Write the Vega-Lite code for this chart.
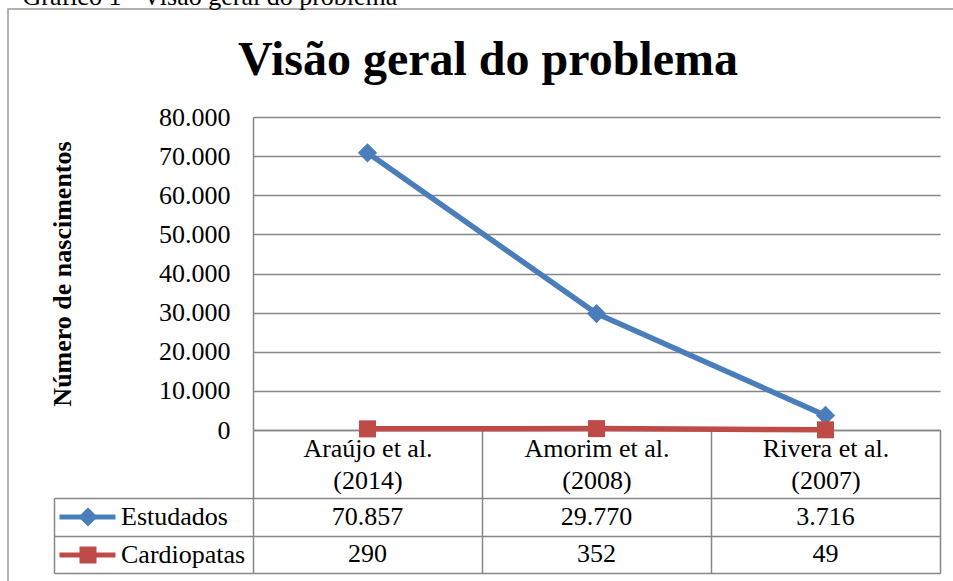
{
  "$schema": "https://vega.github.io/schema/vega-lite/v6.json",
  "width": 950,
  "height": 580,
  "autosize": {"type": "none"},
  "padding": {"left": 8, "top": 9, "right": 0, "bottom": 0},
  "background": "white",
  "title": {
    "text": "Visão geral do problema",
    "anchor": "middle",
    "frame": "group",
    "font": "Liberation Serif",
    "fontSize": 48,
    "fontWeight": "bold",
    "color": "black",
    "baseline": "alphabetic",
    "offset": -140,
    "dx": 5
  },
  "data": {
    "values": [
      {"estudo": "Araújo et al. (2014)", "serie": "Estudados", "valor": 70857},
      {"estudo": "Amorim et al. (2008)", "serie": "Estudados", "valor": 29770},
      {"estudo": "Rivera et al. (2007)", "serie": "Estudados", "valor": 3716},
      {"estudo": "Araújo et al. (2014)", "serie": "Cardiopatas", "valor": 290},
      {"estudo": "Amorim et al. (2008)", "serie": "Cardiopatas", "valor": 352},
      {"estudo": "Rivera et al. (2007)", "serie": "Cardiopatas", "valor": 49}
    ]
  },
  "layer": [
    {
      "encoding": {
        "x": {
          "field": "estudo",
          "type": "nominal",
          "scale": {"type": "band", "domain": ["Araújo et al. (2014)", "Amorim et al. (2008)", "Rivera et al. (2007)"], "range": [245, 932], "paddingInner": 0, "paddingOuter": 0},
          "axis": {
            "orient": "bottom",
            "offset": -159,
            "title": null,
            "labelExpr": "[slice(datum.label, 0, indexof(datum.label, ' (')), slice(datum.label, indexof(datum.label, ' (') + 1)]",
            "labelFont": "Liberation Serif",
            "labelFontSize": 26,
            "labelColor": "black",
            "labelLineHeight": 32,
            "labelAngle": 0,
            "labelBaseline": "top",
            "labelPadding": -138,
            "labelLimit": 0,
            "labelOverlap": false,
            "ticks": true,
            "tickBand": "extent",
            "tickSize": 143,
            "tickColor": "#868686",
            "tickWidth": 1.5,
            "domain": true,
            "domainColor": "#868686",
            "domainWidth": 1.5,
            "grid": false
          }
        },
        "y": {
          "field": "valor",
          "type": "quantitative",
          "scale": {"domain": [0, 80000], "range": [421, 108], "nice": false, "zero": true},
          "axis": {
            "orient": "left",
            "offset": -245,
            "title": "Número de nascimentos",
            "titleFont": "Liberation Serif",
            "titleFontSize": 26,
            "titleFontWeight": "bold",
            "titleColor": "black",
            "titlePadding": 83,
            "values": [0, 10000, 20000, 30000, 40000, 50000, 60000, 70000, 80000],
            "format": ",d",
            "labelFont": "Liberation Serif",
            "labelFontSize": 26,
            "labelColor": "black",
            "labelPadding": 23,
            "ticks": false,
            "grid": true,
            "gridColor": "#868686",
            "gridWidth": 1.5,
            "domain": true,
            "domainColor": "#868686",
            "domainWidth": 1.5
          }
        }
      },
      "layer": [
        {
          "mark": {"type": "line", "strokeWidth": 5.5, "strokeJoin": "round"},
          "encoding": {
            "stroke": {
              "field": "serie",
              "type": "nominal",
              "sort": ["Estudados", "Cardiopatas"],
              "scale": {"range": ["#4A7EBB", "#BE4B48"]},
              "legend": {
                "orient": "none",
                "legendX": 46,
                "legendY": 495,
                "title": null,
                "padding": 0,
                "symbolType": "stroke",
                "symbolSize": 3136,
                "symbolStrokeWidth": 5,
                "symbolOffset": 3,
                "labelOffset": 3,
                "clipHeight": 26,
                "rowPadding": 12,
                "labelFont": "Liberation Serif",
                "labelFontSize": 26,
                "labelColor": "black"
              }
            }
          }
        },
        {
          "mark": {"type": "point", "filled": true, "opacity": 1},
          "encoding": {
            "color": {
              "field": "serie",
              "type": "nominal",
              "scale": {"domain": ["Estudados", "Cardiopatas"], "range": ["#4A7EBB", "#BE4B48"]},
              "legend": {
                "orient": "none",
                "legendX": 46,
                "legendY": 495,
                "title": null,
                "padding": 0,
                "symbolSize": 210,
                "symbolStrokeWidth": 0,
                "symbolOffset": 21,
                "clipHeight": 26,
                "rowPadding": 12,
                "labelExpr": "''",
                "labelFontSize": 26
              }
            },
            "shape": {
              "field": "serie",
              "type": "nominal",
              "scale": {"domain": ["Estudados", "Cardiopatas"], "range": ["diamond", "square"]},
              "legend": {
                "orient": "none",
                "legendX": 46,
                "legendY": 495,
                "title": null,
                "padding": 0,
                "symbolSize": 210,
                "symbolStrokeWidth": 0,
                "symbolOffset": 21,
                "clipHeight": 26,
                "rowPadding": 12,
                "labelExpr": "''",
                "labelFontSize": 26
              }
            },
            "size": {"field": "serie", "type": "ordinal", "scale": {"domain": ["Estudados", "Cardiopatas"], "range": [370, 289]}, "legend": null}
          }
        }
      ]
    },
    {
      "mark": {"type": "text", "font": "Liberation Serif", "fontSize": 26, "color": "black", "align": "center", "baseline": "middle"},
      "encoding": {
        "x": {
          "field": "estudo",
          "type": "nominal",
          "scale": {"type": "band", "domain": ["Araújo et al. (2014)", "Amorim et al. (2008)", "Rivera et al. (2007)"], "range": [245, 932], "paddingInner": 0, "paddingOuter": 0},
          "axis": {
            "orient": "top",
            "offset": 0,
            "title": "Gráfico 1 - Visão geral do problema",
            "titleFont": "Liberation Serif",
            "titleFontSize": 26,
            "titleFontWeight": "normal",
            "titleColor": "black",
            "titleX": 14,
            "titleY": -5,
            "titleAlign": "left",
            "titleAnchor": "start",
            "titleBaseline": "alphabetic",
            "labels": false,
            "ticks": false,
            "domain": false,
            "grid": false
          }
        },
        "y": {
          "field": "serie",
          "type": "nominal",
          "scale": {"type": "band", "domain": ["Estudados", "Cardiopatas"], "range": [489, 564], "paddingInner": 0, "paddingOuter": 0},
          "axis": {
            "orient": "left",
            "offset": -46,
            "title": null,
            "labels": false,
            "ticks": true,
            "tickBand": "extent",
            "tickSize": -199,
            "tickColor": "#868686",
            "tickWidth": 1.5,
            "domain": true,
            "domainColor": "#868686",
            "domainWidth": 1.5,
            "grid": true,
            "gridColor": "#868686",
            "gridWidth": 1.5
          }
        },
        "text": {"field": "valor", "type": "quantitative", "format": ",d"}
      }
    }
  ],
  "resolve": {
    "scale": {"x": "independent", "y": "independent"},
    "axis": {"x": "independent", "y": "independent"}
  },
  "config": {
    "font": "Liberation Serif",
    "locale": {
      "number": {"decimal": ",", "thousands": ".", "grouping": [3], "currency": ["R$", ""]}
    },
    "view": {"stroke": "#999999", "strokeWidth": 1.5}
  }
}
